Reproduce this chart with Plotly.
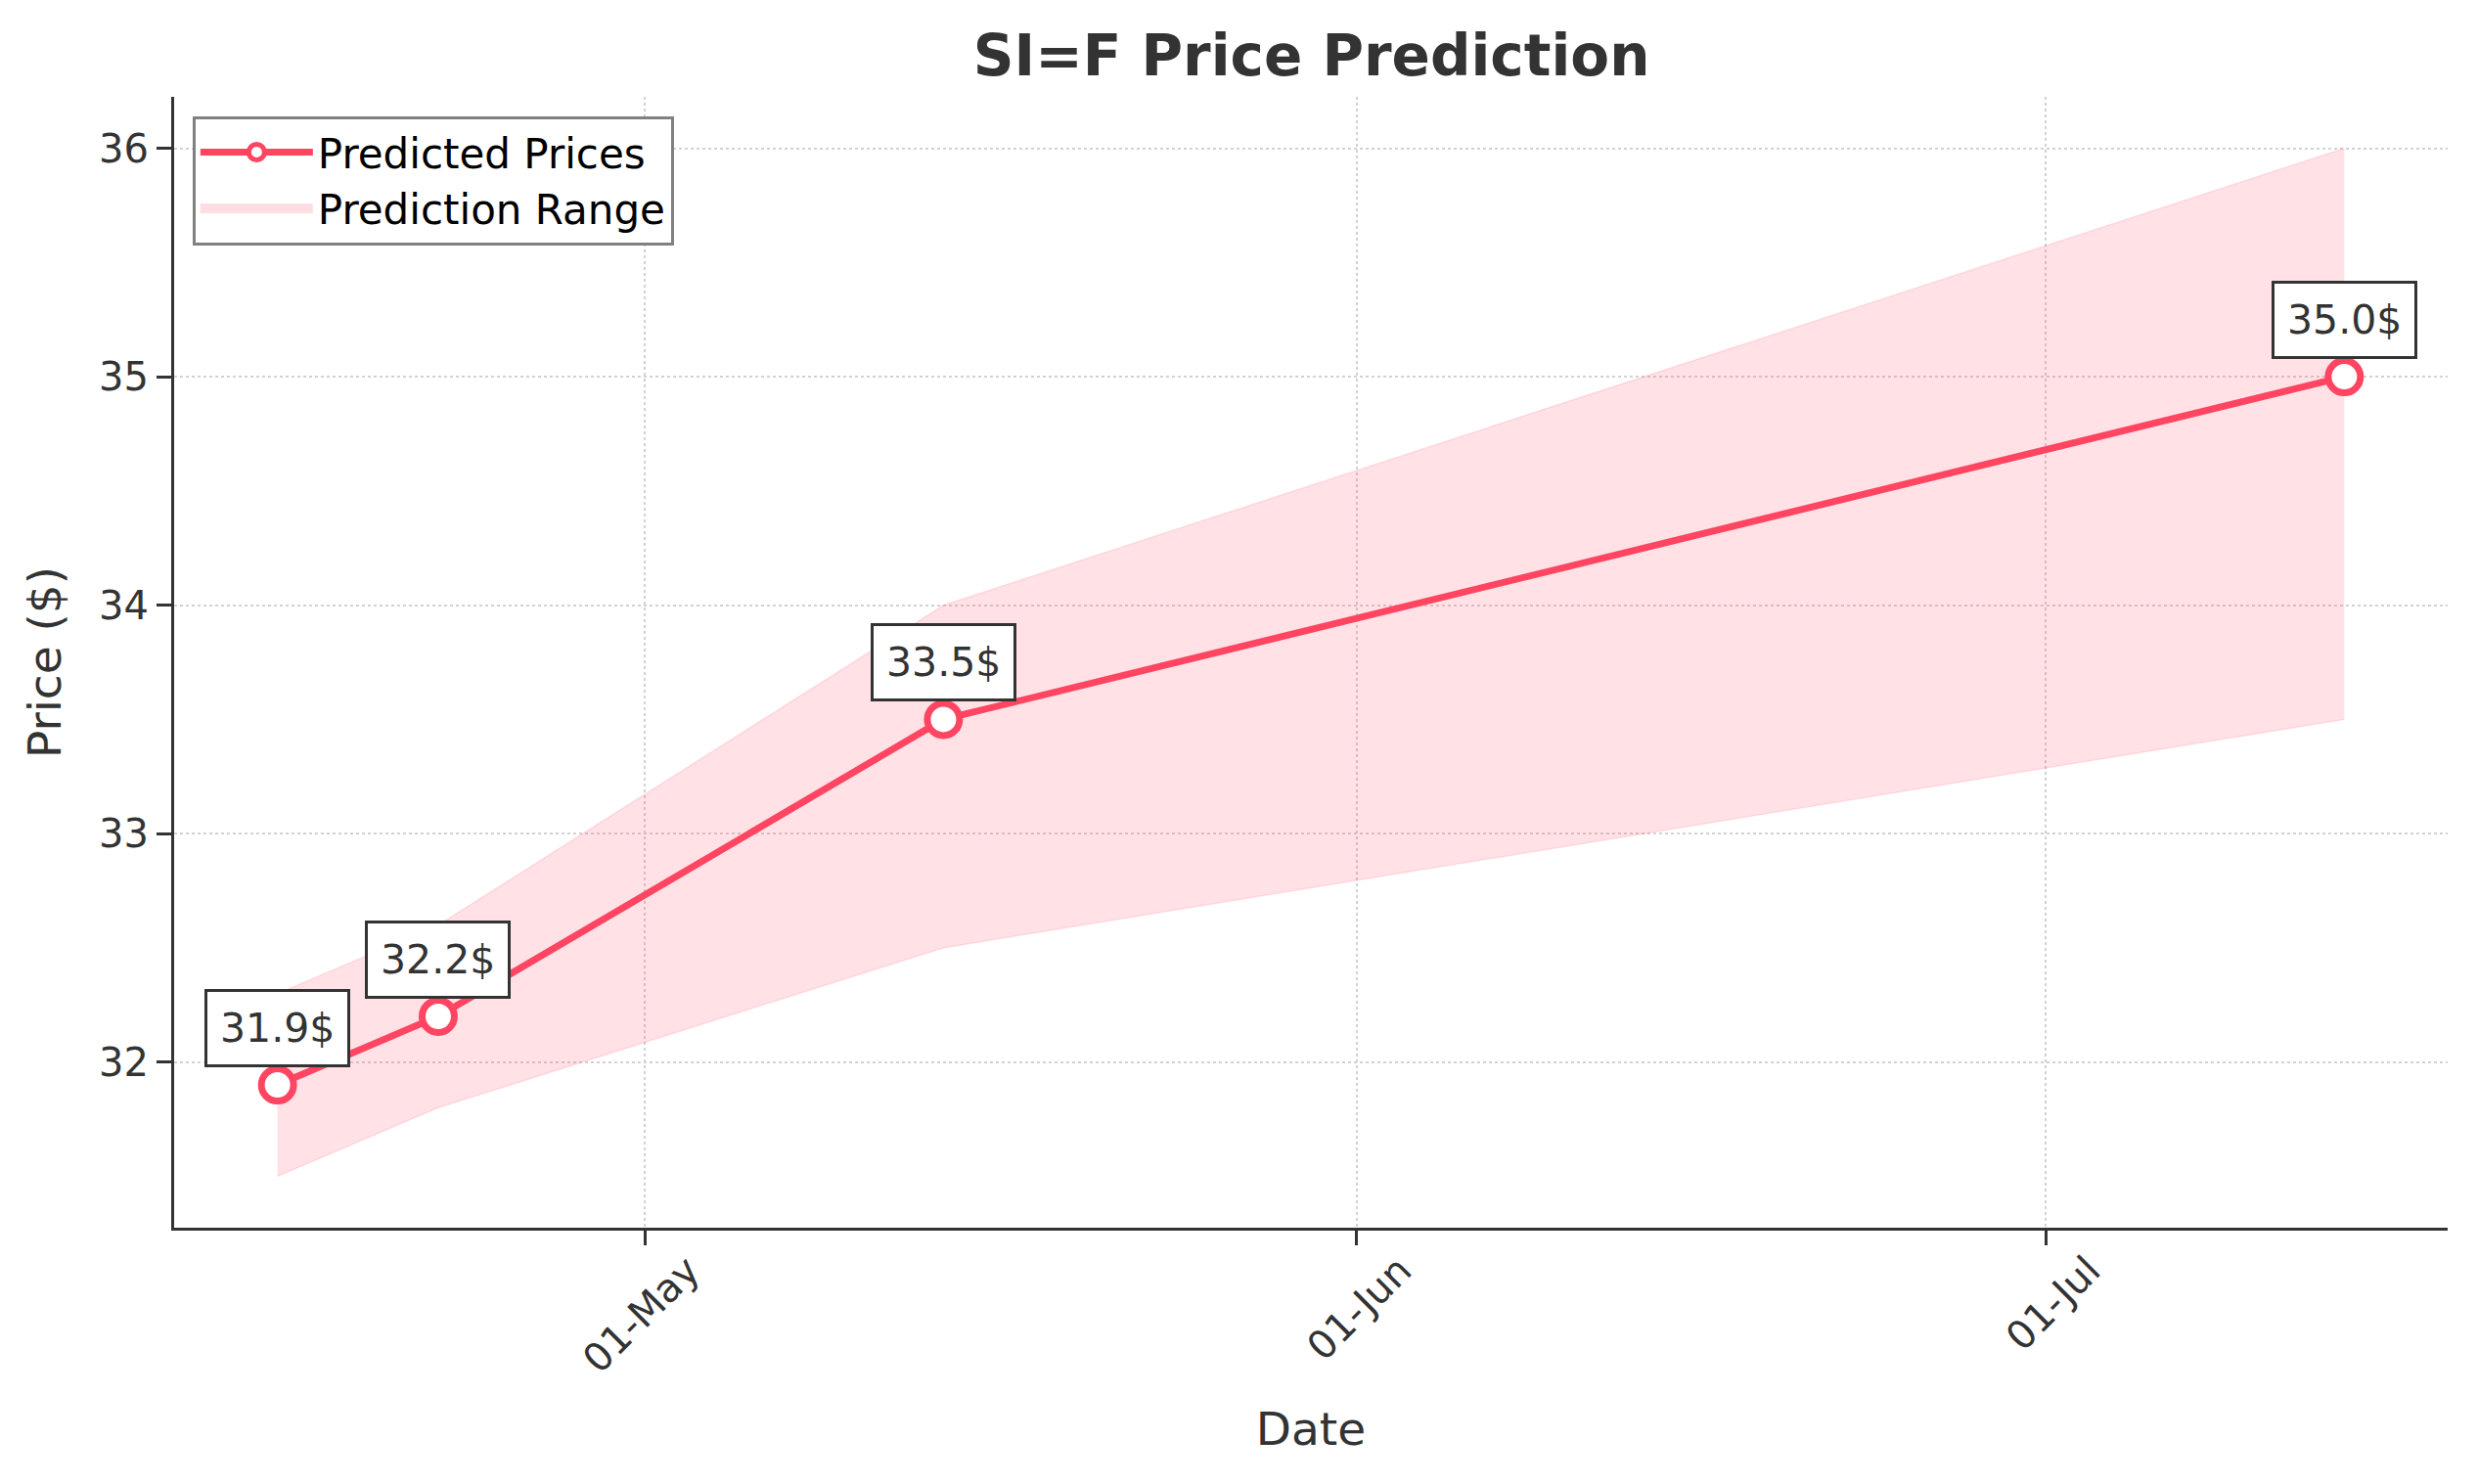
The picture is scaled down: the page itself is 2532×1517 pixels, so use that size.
import plotly.graph_objects as go

# values
dates = ["2024-04-15", "2024-04-22", "2024-05-14", "2024-07-14"]
predicted = [31.9, 32.2, 33.5, 35.0]
lower = [31.5, 31.8, 32.5, 33.5]
upper = [32.3, 32.6, 34.0, 36.0]
tick_dates = ["2024-05-01", "2024-06-01", "2024-07-01"]
tick_labels = ["01-May", "01-Jun", "01-Jul"]

line_color = "#ff4561"
band_fill = "rgba(255,69,97,0.16)"
band_edge = "rgba(255,69,97,0.12)"
text_color = "#333333"
font = "DejaVu Sans"

fig = go.Figure()

# band: lower edge first, then upper filled down to it
fig.add_trace(go.Scatter(
    x=dates, y=lower, mode="lines",
    line=dict(color=band_edge, width=1.5),
    showlegend=False, hoverinfo="skip",
))
fig.add_trace(go.Scatter(
    x=dates, y=upper, mode="lines", fill="tonexty",
    fillcolor=band_fill, line=dict(color=band_edge, width=1.5),
    name="Prediction Range", showlegend=False,
))
fig.add_trace(go.Scatter(
    x=dates, y=predicted, mode="lines+markers",
    line=dict(color=line_color, width=7),
    marker=dict(symbol="circle", size=33, color="white",
                line=dict(color=line_color, width=7)),
    name="Predicted Prices", legendgroup="a",
))
# legend entry for the band (thick pale stroke stands in for the patch)
fig.add_trace(go.Scatter(
    x=[None], y=[None], mode="lines",
    line=dict(color="rgba(255,69,97,0.18)", width=28),
    name="Prediction Range", legendgroup="b",
))

for d, v in zip(dates, predicted):
    fig.add_annotation(
        x=d, y=v, text=f"{v:.1f}$", showarrow=False, yshift=58,
        font=dict(family=font, size=41, color=text_color),
        bgcolor="white", bordercolor=text_color, borderwidth=3, borderpad=13,
    )

axis_common = dict(
    showline=True, linecolor=text_color, linewidth=3, mirror=False,
    ticks="outside", ticklen=15, tickwidth=2.5, tickcolor=text_color,
    showgrid=True, gridcolor="#d2d2d2", gridwidth=2, griddash="dot",
    zeroline=False,
    tickfont=dict(family=font, size=40, color=text_color),
)

fig.update_xaxes(
    type="date", range=["2024-04-10 12:00", "2024-07-18 12:00"],
    tickvals=tick_dates, ticktext=tick_labels, tickangle=-45,
    ticklabelshift=44, ticklabelstandoff=-14,
    title=dict(text="Date", font=dict(family=font, size=47, color=text_color), standoff=33),
    **axis_common,
)
fig.update_yaxes(
    range=[31.275, 36.225], dtick=1, tick0=32,
    title=dict(text="Price ($)", font=dict(family=font, size=47, color=text_color), standoff=24),
    **axis_common,
)

fig.update_layout(
    width=2524, height=1509,
    margin=dict(l=170, r=30, t=91, b=262),
    paper_bgcolor="white", plot_bgcolor="white",
    font=dict(family=font, color=text_color),
    title=dict(
        text="<b>SI=F Price Prediction</b>", x=0.528, xanchor="center",
        y=0.9675, yanchor="middle",
        font=dict(family=font, size=58, color=text_color),
    ),
    legend=dict(
        x=0.0081, y=0.983, xanchor="left", yanchor="top",
        bgcolor="white", bordercolor="#808080", borderwidth=3,
        font=dict(family=font, size=42, color="black"),
        itemwidth=115, traceorder="normal", tracegroupgap=22,
    ),
    showlegend=True,
)

fig.write_html("out.html")
